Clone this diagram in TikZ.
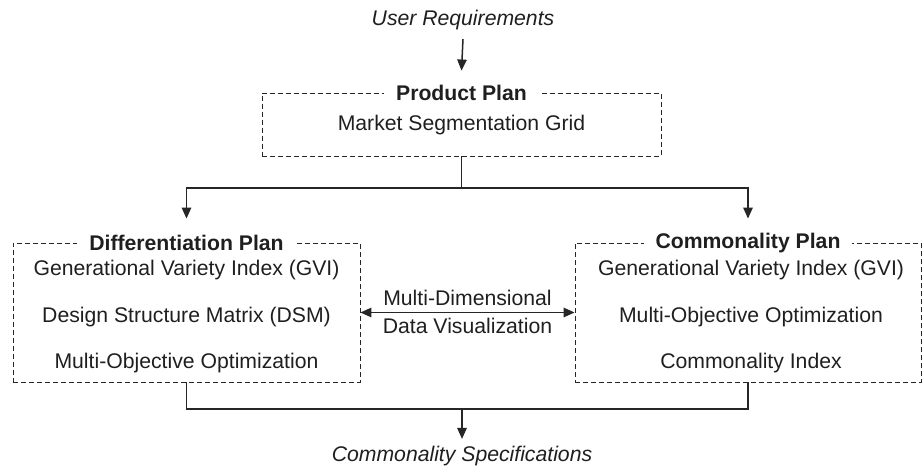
\documentclass[tikz,border=0pt]{standalone}
\usepackage{fontspec}
\setmainfont{Liberation Sans}
\usetikzlibrary{arrows.meta}
\begin{document}
\begin{tikzpicture}[x=1pt,y=-1pt,
  txt/.style={font=\fontsize{21.2}{25}\selectfont, inner sep=0pt, text=black!88},
  ttl/.style={txt, font=\fontsize{21.2}{25}\selectfont\bfseries, fill=white, inner xsep=12pt, inner ysep=2pt},
  plan/.style={draw=black!85, dash pattern=on 5pt off 3pt, line width=0.9pt, inner sep=0pt},
  link/.style={draw=black!85, line width=1.5pt},
  arr/.style={link, -{Triangle[length=11pt,width=9.5pt]}},
  arrs/.style={link, {Triangle[length=11pt,width=9.5pt]}-{Triangle[length=11pt,width=9.5pt]}}]
\useasboundingbox (0,0) rectangle (923,469);

% inputs and outputs
\node[txt, font=\fontsize{21.2}{25}\selectfont\itshape] (ureq) at (463,20) {User Requirements};
\node[txt, font=\fontsize{21.2}{25}\selectfont\itshape] (cspec) at (462,456) {Commonality Specifications};

% product plan
\node[plan, minimum width=399pt, minimum height=63pt] (pp) at (461.5,124.5) {};
\node[ttl] (pptitle) at (pp.north) {Product Plan};
\node[txt] (ppgrid) at (461.5,125) {Market Segmentation Grid};

% differentiation plan
\node[plan, minimum width=347pt, minimum height=139pt] (dp) at (186.5,312.5) {};
\node[ttl] (dptitle) at (dp.north) {Differentiation Plan};
\node[txt] (dp1) at (186.5,270) {Generational Variety Index (GVI)};
\node[txt] (dp2) at (186.5,317) {Design Structure Matrix (DSM)};
\node[txt] (dp3) at (186.5,363) {Multi-Objective Optimization};

% commonality plan
\node[plan, minimum width=346pt, minimum height=139pt] (cp) at (748,312.5) {};
\node[ttl] (cptitle) at (cp.north) {Commonality Plan};
\node[txt] (cp1) at (751,270) {Generational Variety Index (GVI)};
\node[txt] (cp2) at (751,317) {Multi-Objective Optimization};
\node[txt] (cp3) at (751,363) {Commonality Index};

% visualization link between the two plans
\draw[arrs] (dp.east) -- (cp.west)
  node[midway, above=6pt, txt] (mdv1) {Multi-Dimensional}
  node[midway, below=5pt, txt] (mdv2) {Data Visualization};

% flow connectors
\coordinate (split) at (461.5,188);
\coordinate (merge) at (462,409);
\draw[arr] ([yshift=-9pt]ureq.south) -- ([yshift=22pt]pp.north);
\draw[link] (pp.south) -- (split);
\draw[arr] (split) -| ([yshift=24pt]dp.north);
\draw[arr] (split) -| ([yshift=24pt]cp.north);
\draw[link] (dp.south) |- (merge) -| (cp.south);
\draw[arr] (merge) -- ([yshift=7pt]cspec.north);
\end{tikzpicture}
\end{document}
